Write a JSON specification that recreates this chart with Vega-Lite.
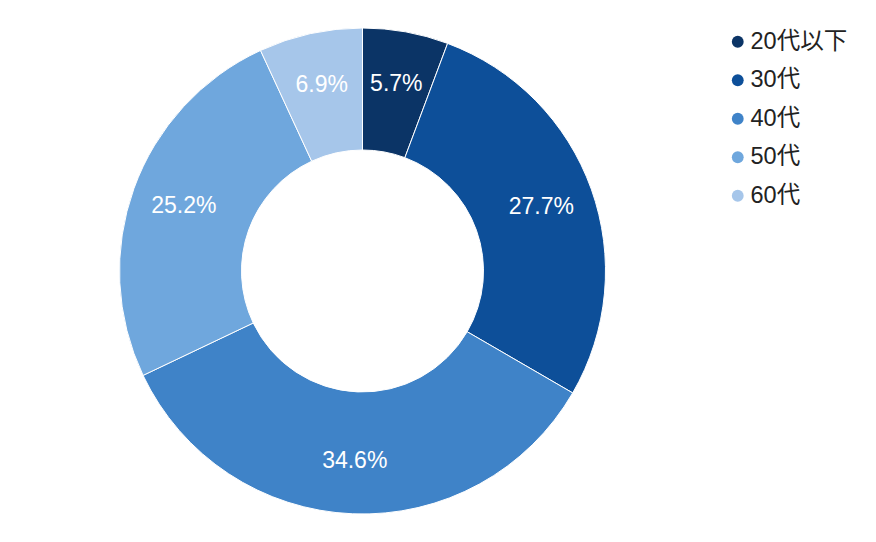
{
  "$schema": "https://vega.github.io/schema/vega-lite/v6.json",
  "width": 725,
  "height": 542,
  "padding": {"left": 0, "top": 0, "right": 151, "bottom": 0},
  "autosize": "none",
  "background": "white",
  "config": {"view": {"stroke": null}, "font": "Liberation Sans, Noto Sans CJK JP"},
  "data": {"values": [
    {"group": "20代以下", "value": 5.7, "idx": 1, "label": "5.7%"},
    {"group": "30代", "value": 27.7, "idx": 2, "label": "27.7%"},
    {"group": "40代", "value": 34.6, "idx": 3, "label": "34.6%"},
    {"group": "50代", "value": 25.2, "idx": 4, "label": "25.2%"},
    {"group": "60代", "value": 6.9, "idx": 5, "label": "6.9%"}
  ]},
  "encoding": {
    "theta": {"field": "value", "type": "quantitative", "stack": true},
    "order": {"field": "idx", "type": "quantitative", "sort": "ascending"},
    "color": {
      "field": "group", "type": "nominal",
      "scale": {"domain": ["20代以下", "30代", "40代", "50代", "60代"],
                "range": ["#0b3466", "#0d4f99", "#3f83c8", "#6fa7dd", "#a6c6ea"]},
      "legend": {
        "title": null, "orient": "none", "legendX": 726, "legendY": 30,
        "symbolType": "circle", "symbolSize": 140, "symbolStrokeWidth": 0,
        "labelFontSize": 23.5, "labelColor": "#222222", "labelFont": "Liberation Sans, Noto Sans CJK JP",
        "rowPadding": 13.5, "labelOffset": 1
      }
    }
  },
  "layer": [
    {"mark": {"type": "arc", "outerRadius": 243, "innerRadius": 121, "stroke": "white", "strokeWidth": 1}},
    {"mark": {"type": "text", "radius": 190, "fontSize": 23, "fill": "white", "font": "Liberation Sans"},
     "encoding": {"text": {"field": "label"}, "color": {"value": "white"}}}
  ]
}
